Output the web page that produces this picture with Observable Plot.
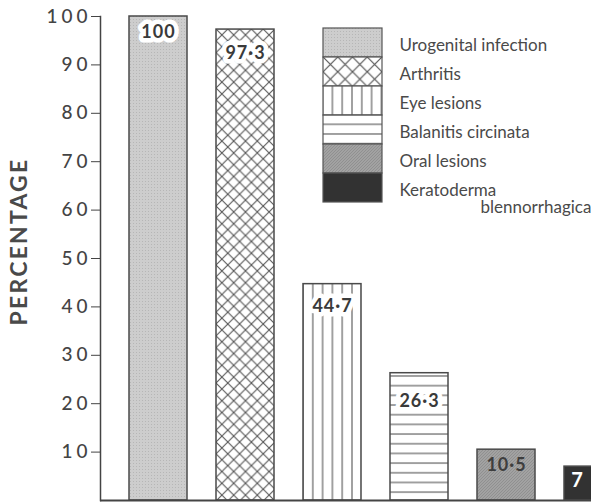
<!DOCTYPE html>
<html><head><meta charset="utf-8">
<script src="https://cdn.jsdelivr.net/npm/d3@7"></script>
<script src="https://cdn.jsdelivr.net/npm/@observablehq/plot@0.6"></script>
<style>
html,body{margin:0;padding:0;background:#fff;overflow:hidden;}
#wrap{position:relative;width:591px;height:502px;overflow:hidden;background:#fff;}
#wrap svg{position:absolute;left:0;top:0;overflow:hidden;max-width:none;}
#wrap svg [aria-label="y-axis tick label"] text{letter-spacing:4px;}
#wrap svg text[aria-label="y-label"]{letter-spacing:2.2px;}
#wrap svg text[aria-label="value-label"]{letter-spacing:1px;}
</style></head><body>
<svg width="0" height="0" style="position:absolute">
<defs>
<pattern id="stip" patternUnits="userSpaceOnUse" width="3" height="3">
<rect width="3" height="3" fill="#cdcdcd"/><rect x="1" y="1" width="1" height="1" fill="#b6b6b6"/>
</pattern>
<pattern id="cross" patternUnits="userSpaceOnUse" x="216" y="29" width="11.8" height="11.8">
<rect width="11.8" height="11.8" fill="#fff"/>
<path d="M0,0L11.8,11.8M11.8,0L0,11.8" stroke="#555" stroke-width="1.1"/>
</pattern>
<pattern id="cross2" patternUnits="userSpaceOnUse" x="323" y="57" width="14.75" height="14.75">
<rect width="14.75" height="14.75" fill="#fff"/>
<path d="M0,0L14.75,14.75M14.75,0L0,14.75" stroke="#555" stroke-width="1.2"/>
</pattern>
<pattern id="vlines" patternUnits="userSpaceOnUse" x="298.1" y="0" width="9.8" height="10">
<rect width="9.8" height="10" fill="#fff"/>
<path d="M4.9,0V10" stroke="#555" stroke-width="1.1"/>
</pattern>
<pattern id="hlines" patternUnits="userSpaceOnUse" x="0" y="22.66" width="10" height="9.68">
<rect width="10" height="9.68" fill="#fff"/>
<path d="M0,4.84H10" stroke="#555" stroke-width="1.1"/>
</pattern>
<pattern id="oral" patternUnits="userSpaceOnUse" width="3" height="3">
<rect width="3" height="3" fill="#a2a2a2"/><path d="M0,3L3,0" stroke="#8c8c8c" stroke-width="0.8"/>
</pattern>
</defs>
</svg>
<div id="wrap"></div>
<script>
const categories = ["Urogenital infection", "Arthritis", "Eye lesions", "Balanitis circinata", "Oral lesions", "Keratoderma blennorrhagica"];
const values = [100, 97.3, 44.7, 26.3, 10.5, 7];
const valueLabels = ["100", "97·3", "44·7", "26·3", "10·5", "7"];
const legendLabels = ["Urogenital infection", "Arthritis", "Eye lesions", "Balanitis circinata", "Oral lesions", "Keratoderma"];
const legendContinuation = ["blennorrhagica"];
const yTicks = [10, 20, 30, 40, 50, 60, 70, 80, 90, 100];
const yLabel = "PERCENTAGE";

const barFills = ["url(#stip)", "url(#cross)", "url(#vlines)", "url(#hlines)", "url(#oral)", "#323232"];
const legendFills = ["url(#stip)", "url(#cross2)", "url(#vlines)", "url(#hlines)", "url(#oral)", "#323232"];

const data = categories.map((c, i) => ({category: c, value: values[i], label: valueLabels[i], fill: barFills[i]}));
const legendRows = legendLabels.map((l, i) => ({label: l, fill: legendFills[i]}));

const labelDy = [16, 24, 22, 28, 16, 14];
const labelMarks = data.map((d, i) => {
  const base = {x: "category", y: "value", text: "label", dy: labelDy[i], fontSize: 18, fontWeight: "bold", fontFamily: "Lato, sans-serif", ariaLabel: () => "value-label"};
  if (i < 4) return Plot.text([d], {...base, fill: "#3a3a3a", stroke: "white", strokeWidth: 9, strokeLinejoin: "round", paintOrder: "stroke"});
  if (i === 4) return Plot.text([d], {...base, fill: "#3e3e3e"});
  return Plot.text([d], {...base, fill: "white", dx: -16, fontSize: 20});
});

const chart = Plot.plot({
  width: 591, height: 502,
  marginLeft: 100, marginRight: 0, marginTop: 16, marginBottom: 2,
  x: {domain: categories, range: [100, 651], padding: 0.333, axis: null},
  y: {domain: [0, 100]},
  color: {type: "identity"},
  style: {background: "transparent", fontFamily: "Lato, sans-serif", color: "#444"},
  marks: [
    Plot.barY(data, {x: "category", y: "value", fill: "fill", stroke: "#4a4a4a", strokeWidth: 1.5}),
    Plot.ruleY([0], {stroke: "#444", strokeWidth: 2}),
    Plot.axisY({ticks: yTicks, tickSize: 9, tickPadding: 0, fontSize: 19, fontWeight: 500, label: null, color: "#444"}),
    Plot.frame({anchor: "left", stroke: "#444", strokeWidth: 1.5}),
    Plot.text([yLabel], {frameAnchor: "left", textAnchor: "middle", dx: -81, dy: -17, rotate: -90, fontSize: 23, fill: "#4a4a4a", fontWeight: "bold", ariaLabel: () => "y-label"}),
    ...labelMarks
  ]
});

const legend = Plot.plot({
  width: 591, height: 502, margin: 0,
  x: {domain: [0, 1], range: [323, 382], axis: null},
  y: {domain: legendLabels, range: [27, 203], padding: 0, axis: null},
  color: {type: "identity"},
  style: {background: "transparent", fontFamily: "Lato, sans-serif"},
  marks: [
    Plot.barX(legendRows, {y: "label", x1: 0, x2: 1, fill: "fill", stroke: "#555", strokeWidth: 1.2, inset: 0}),
    Plot.text(legendRows, {y: "label", x: 1, dx: 17, dy: 3, text: "label", textAnchor: "start", fontSize: 17, fill: "#4a4a4a"}),
    Plot.text(legendContinuation, {y: () => legendLabels[5], x: 1, dx: 98, dy: 20, text: d => d, textAnchor: "start", fontSize: 17, fill: "#4a4a4a"})
  ]
});

const wrap = document.getElementById("wrap");
wrap.appendChild(chart);
wrap.appendChild(legend);
</script>
</body></html>
